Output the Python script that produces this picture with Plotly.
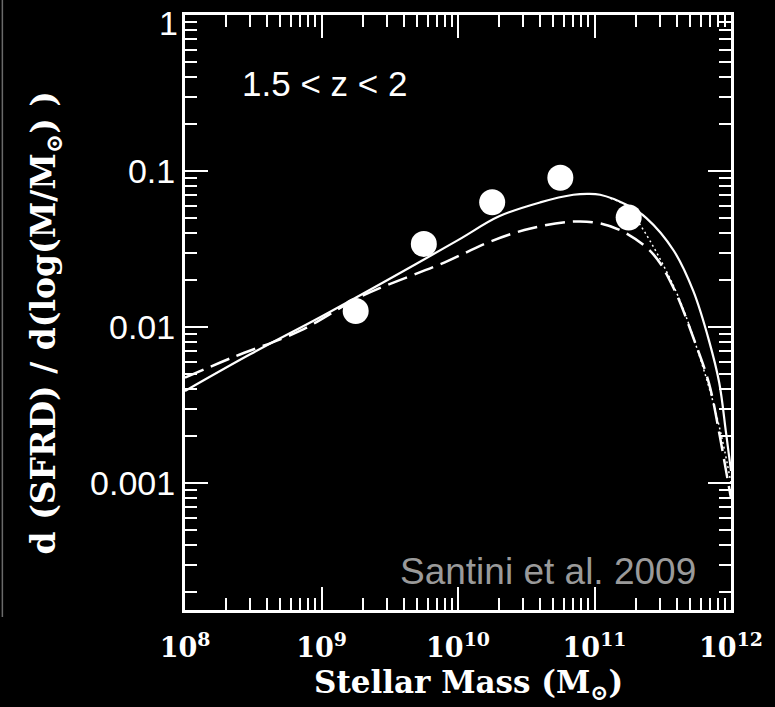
import plotly.graph_objects as go

# ---- data ----
pts_mass = [1.78e9, 5.62e9, 1.78e10, 5.62e10, 1.78e11]
pts_val = [0.0127, 0.0341, 0.0631, 0.0907, 0.0504]

solid_mass = [1e8, 3e8, 1e9, 3e9, 1e10, 2e10, 4e10, 7e10, 9e10, 1.1e11, 1.7e11,
              2.4e11, 3.8e11, 5.3e11, 6.9e11, 8.2e11, 9.2e11, 1e12]
solid_val = [0.0039, 0.0067, 0.0117, 0.0199, 0.0361, 0.0513, 0.063, 0.0705, 0.0715,
             0.0705, 0.061, 0.050, 0.031, 0.017, 0.0082, 0.0044, 0.0021, 0.0012]

dash_mass = [1e8, 2.2e8, 7e8, 2e9, 8e9, 1.7e10, 3.4e10, 7e10, 1.1e11, 1.7e11,
             2.7e11, 3.8e11, 5.3e11, 6.9e11, 8.2e11, 9.2e11, 1e12]
dash_val = [0.00475, 0.00637, 0.0095, 0.0159, 0.026, 0.0352, 0.0429, 0.0475, 0.0462,
            0.040, 0.0293, 0.0178, 0.00855, 0.00436, 0.0021, 0.0012, 0.0008]

dot_mass = [1.3e11, 1.7e11, 2.15e11, 3e11, 4.2e11, 5.85e11, 7.4e11, 8.75e11, 1e12]
dot_val = [0.067, 0.060, 0.0455, 0.0277, 0.0150, 0.0066, 0.0033, 0.0018, 0.001]

x_tickvals = [1e8, 1e9, 1e10, 1e11, 1e12]
x_ticktext = ["10<sup>8</sup>", "10<sup>9</sup>", "10<sup>10</sup>", "10<sup>11</sup>", "10<sup>12</sup>"]
y_tickvals = [1, 0.1, 0.01, 0.001]
y_ticktext = ["", "0.1", "0.01", "0.001"]
top_label = "1"

x_minor = [m * 10.0 ** e for e in range(8, 12) for m in range(2, 10)]
y_minor = [m * 10.0 ** e for e in range(-4, 0) for m in range(2, 10)]

fig = go.Figure()
fig.add_trace(go.Scatter(x=dash_mass, y=dash_val, mode="lines", line_shape="spline",
                         line=dict(color="white", width=2.5, dash="20px,8px")))
fig.add_trace(go.Scatter(x=dot_mass, y=dot_val, mode="lines", line_shape="spline",
                         line=dict(color="white", width=1.5, dash="2px,3px")))
fig.add_trace(go.Scatter(x=solid_mass, y=solid_val, mode="lines", line_shape="spline",
                         line=dict(color="white", width=2.2)))
fig.add_trace(go.Scatter(x=pts_mass, y=pts_val, mode="markers",
                         marker=dict(color="white", size=26, line=dict(width=0))))


def minor(vals):
    return dict(ticks="inside", ticklen=12, tickwidth=2, tickcolor="white",
                tickmode="array", tickvals=vals, showgrid=False)


fig.update_layout(
    width=775, height=707,
    margin=dict(l=185, r=40, t=12, b=97),
    paper_bgcolor="black", plot_bgcolor="black",
    showlegend=False,
    xaxis=dict(type="log", range=[8, 12], showgrid=False, zeroline=False,
               showline=True, linecolor="white", linewidth=3, mirror="allticks",
               ticks="inside", ticklen=23, tickwidth=2, tickcolor="white",
               tickmode="array", tickvals=x_tickvals, ticktext=x_ticktext,
               tickfont=dict(family="DejaVu Serif", size=27, color="white", weight="bold"),
               ticklabelstandoff=12, minor=minor(x_minor)),
    yaxis=dict(type="log", range=[-3.812, 0], showgrid=False, zeroline=False,
               showline=True, linecolor="white", linewidth=3, mirror="allticks",
               ticks="inside", ticklen=23, tickwidth=2, tickcolor="white",
               tickmode="array", tickvals=y_tickvals, ticktext=y_ticktext,
               tickfont=dict(family="Liberation Sans", size=34, color="white"),
               ticklabelstandoff=0, minor=minor(y_minor)),
)

fig.add_annotation(text=top_label, xref="paper", yref="paper",
                   x=(180 - 185) / 550, y=(610 - 20) / 598, xanchor="right", yanchor="middle",
                   showarrow=False,
                   font=dict(family="Liberation Sans", size=34, color="white"))
fig.add_annotation(text="1.5 &lt; z &lt; 2", xref="paper", yref="paper",
                   x=0.2564, y=0.8850, xanchor="center", yanchor="middle", showarrow=False,
                   font=dict(family="Liberation Sans", size=35, color="white"))
fig.add_annotation(text="Santini et al. 2009", xref="paper", yref="paper",
                   x=0.6640, y=0.0650, xanchor="center", yanchor="middle", showarrow=False,
                   font=dict(family="Liberation Sans", size=37, color="#9a9a9a"))
fig.add_annotation(text="Stellar Mass (M<sub>⊙</sub>)", xref="paper", yref="paper",
                   x=0.52, y=-0.1254, xanchor="center", yanchor="middle", showarrow=False,
                   font=dict(family="DejaVu Serif", size=31, color="white", weight="bold"))
fig.add_annotation(text="d (SFRD) / d(log(M/M<sub>⊙</sub>) )", xref="paper", yref="paper",
                   x=-0.255, y=0.483, xanchor="center", yanchor="middle", showarrow=False,
                   textangle=-90,
                   font=dict(family="DejaVu Serif", size=33, color="white", weight="bold"))

fig.add_shape(type="line", xref="paper", yref="paper",
              x0=-0.3345, x1=-0.3345, y0=-0.0117, y1=1.03,
              line=dict(color="#6a6a6a", width=1.5))

fig.write_html("out.html")
